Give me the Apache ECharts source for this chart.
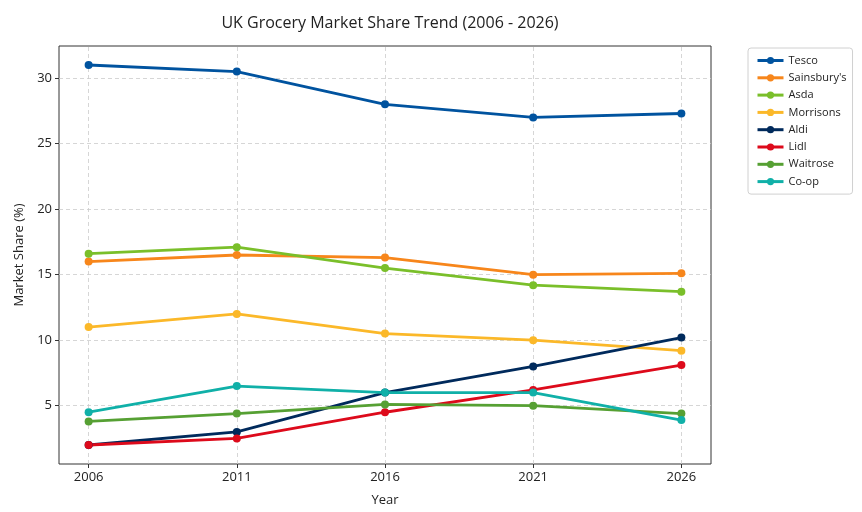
<!DOCTYPE html>
<html><head><meta charset="utf-8">
<script src="https://cdn.jsdelivr.net/npm/echarts@6/dist/echarts.min.js"></script>
<style>html,body{margin:0;padding:0;background:#fff}#c{width:862px;height:512px}</style>
</head><body><div id="c"></div>
<script>
const years = [2006, 2011, 2016, 2021, 2026];
const yTicks = [5, 10, 15, 20, 25, 30];
const names = ["Tesco", "Sainsbury's", "Asda", "Morrisons", "Aldi", "Lidl", "Waitrose", "Co-op"];
const tesco = [31.0, 30.5, 28.0, 27.0, 27.3];
const sainsburys = [16.0, 16.5, 16.3, 15.0, 15.1];
const asda = [16.6, 17.1, 15.5, 14.2, 13.7];
const morrisons = [11.0, 12.0, 10.5, 10.0, 9.2];
const aldi = [2.0, 3.0, 6.0, 8.0, 10.2];
const lidl = [2.0, 2.5, 4.5, 6.2, 8.1];
const waitrose = [3.8, 4.4, 5.1, 5.0, 4.4];
const coop = [4.5, 6.5, 6.0, 6.0, 3.9];
const values = [tesco, sainsburys, asda, morrisons, aldi, lidl, waitrose, coop];
const colors = ["#00539f", "#f7861b", "#7abf2a", "#fbb829", "#002a5c", "#dd0a1b", "#56a033", "#10b0a8"];

const FONT = "Open Sans";
const chart = echarts.init(document.getElementById('c'), null, {renderer: 'canvas'});
const series = names.map((n, i) => ({
  name: n, type: 'line',
  data: years.map((y, j) => [y, values[i][j]]),
  symbol: 'circle', symbolSize: 8,
  lineStyle: {width: 2.8, color: colors[i]},
  itemStyle: {color: colors[i], borderWidth: 0},
  emphasis: {disabled: true},
  z: 3
}));
const gridLine = {color: '#cccccc', type: [4, 3], width: 0.8};
series.push({
  type: 'line', data: [], silent: true, z: 1,
  markLine: {z: 1, symbol: 'none', silent: true, label: {show: false}, lineStyle: gridLine,
    emphasis: {disabled: true},
    data: years.map(y => ({xAxis: y}))}
});
series.push({
  type: 'line', data: [], silent: true, z: 1,
  markLine: {z: 1, symbol: 'none', silent: true, label: {show: false}, lineStyle: gridLine,
    emphasis: {disabled: true},
    data: yTicks.map(v => ({yAxis: v}))}
});
chart.setOption({
  animation: false,
  color: colors,
  textStyle: {fontFamily: FONT},
  title: {text: 'UK Grocery Market Share Trend (2006 - 2026)', left: 385, textAlign: 'center', top: 10,
    textStyle: {fontFamily: FONT, fontSize: 16, fontWeight: 'normal', color: '#222'}},
  grid: {left: 59, right: 151, top: 46, bottom: 44, show: true, borderColor: '#333', borderWidth: 1, backgroundColor: 'transparent'},
  legend: {
    data: names, orient: 'vertical', left: 748, top: 48,
    itemWidth: 26, itemHeight: 9, itemGap: 6.3,
    borderColor: '#d0d0d0', borderWidth: 1, borderRadius: 3, padding: [7, 6, 7, 8],
    lineStyle: {width: 3},
    textStyle: {fontFamily: FONT, fontSize: 11, color: '#222'}
  },
  xAxis: {
    type: 'value', min: 2005, max: 2027,
    name: 'Year', nameLocation: 'middle', nameGap: 30,
    nameTextStyle: {fontFamily: FONT, fontSize: 13, color: '#222'},
    axisLine: {show: false},
    axisTick: {show: true, customValues: years, length: 4, lineStyle: {color: '#333'}},
    axisLabel: {customValues: years, formatter: v => String(v), fontFamily: FONT, fontSize: 13, color: '#222', margin: 7},
    splitLine: {show: false}
  },
  yAxis: {
    type: 'value', min: 0.55, max: 32.45,
    name: 'Market Share (%)', nameLocation: 'middle', nameGap: 31,
    nameTextStyle: {fontFamily: FONT, fontSize: 13, color: '#222'},
    axisLine: {show: false},
    axisTick: {show: true, customValues: yTicks, length: 4, lineStyle: {color: '#333'}},
    axisLabel: {customValues: yTicks, fontFamily: FONT, fontSize: 13, color: '#222', margin: 7},
    splitLine: {show: false}
  },
  series: series
});
</script></body></html>
